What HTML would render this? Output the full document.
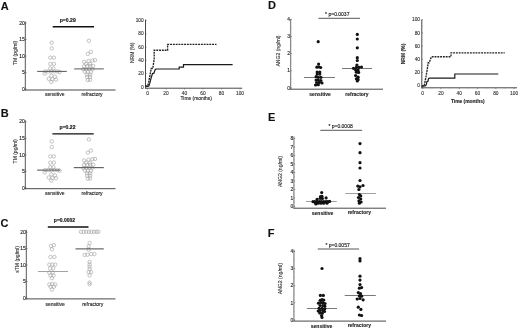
<!DOCTYPE html><html><head><meta charset="utf-8"><style>html,body{margin:0;padding:0;background:#fff;}svg{display:block;filter:grayscale(1);}text{font-family:"Liberation Sans", sans-serif;stroke:currentColor;stroke-width:0.12px;}</style></head><body>
<svg width="520" height="330" viewBox="0 0 520 330">
<rect width="520" height="330" fill="#fff"/>
<text x="0.64" y="9.88" font-size="11" text-anchor="start" font-weight="bold" fill="#111" color="#111">A</text>
<text x="0.82" y="116.96" font-size="11" text-anchor="start" font-weight="bold" fill="#111" color="#111">B</text>
<text x="0.54" y="227.00" font-size="11" text-anchor="start" font-weight="bold" fill="#111" color="#111">C</text>
<text x="268.10" y="9.14" font-size="11" text-anchor="start" font-weight="bold" fill="#111" color="#111">D</text>
<text x="268.06" y="120.98" font-size="11" text-anchor="start" font-weight="bold" fill="#111" color="#111">E</text>
<text x="267.82" y="237.20" font-size="11" text-anchor="start" font-weight="bold" fill="#111" color="#111">F</text>
<line x1="25.3" y1="21.6" x2="25.3" y2="90.4" stroke="#444" stroke-width="0.9"/>
<line x1="24.900000000000002" y1="90.0" x2="115.5" y2="90.0" stroke="#333" stroke-width="0.9"/>
<line x1="25.3" y1="89.1" x2="26.6" y2="89.1" stroke="#555" stroke-width="0.6"/>
<text x="24.70" y="90.85" font-size="5" text-anchor="end" font-weight="normal" fill="#222" color="#222">0</text>
<line x1="25.3" y1="72.57499999999999" x2="26.6" y2="72.57499999999999" stroke="#555" stroke-width="0.6"/>
<text x="24.70" y="74.32" font-size="5" text-anchor="end" font-weight="normal" fill="#222" color="#222">5</text>
<line x1="25.3" y1="56.04999999999999" x2="26.6" y2="56.04999999999999" stroke="#555" stroke-width="0.6"/>
<text x="24.70" y="57.80" font-size="5" text-anchor="end" font-weight="normal" fill="#222" color="#222">10</text>
<line x1="25.3" y1="39.52499999999999" x2="26.6" y2="39.52499999999999" stroke="#555" stroke-width="0.6"/>
<text x="24.70" y="41.27" font-size="5" text-anchor="end" font-weight="normal" fill="#222" color="#222">15</text>
<line x1="25.3" y1="22.999999999999986" x2="26.6" y2="22.999999999999986" stroke="#555" stroke-width="0.6"/>
<text x="24.70" y="24.75" font-size="5" text-anchor="end" font-weight="normal" fill="#222" color="#222">20</text>
<line x1="25.3" y1="80.83749999999999" x2="26.2" y2="80.83749999999999" stroke="#888" stroke-width="0.5"/>
<line x1="25.3" y1="64.3125" x2="26.2" y2="64.3125" stroke="#888" stroke-width="0.5"/>
<line x1="25.3" y1="47.787499999999994" x2="26.2" y2="47.787499999999994" stroke="#888" stroke-width="0.5"/>
<line x1="25.3" y1="31.26249999999999" x2="26.2" y2="31.26249999999999" stroke="#888" stroke-width="0.5"/>
<text x="17.44" y="52.90" font-size="5" text-anchor="middle" font-weight="normal" fill="#333" color="#333" transform="rotate(-90 17.44 52.90)">TM (pg/ml)</text>
<text x="54.72" y="96.04" font-size="5" text-anchor="middle" font-weight="normal" fill="#222" color="#222">sensitive</text>
<text x="92.04" y="95.84" font-size="5" text-anchor="middle" font-weight="normal" fill="#222" color="#222">refractory</text>
<text x="67.73" y="21.54" font-size="5.1" text-anchor="middle" font-weight="bold" fill="#111" color="#111">p=0.29</text>
<line x1="52.7" y1="26.8" x2="94" y2="26.8" stroke="#111" stroke-width="1.4"/>
<circle cx="51.7" cy="42.7" r="1.72" fill="none" stroke="#a0a0a0" stroke-width="0.62"/>
<circle cx="51.7" cy="48.4" r="1.72" fill="none" stroke="#a0a0a0" stroke-width="0.62"/>
<circle cx="50.3" cy="57.7" r="1.72" fill="none" stroke="#a0a0a0" stroke-width="0.62"/>
<circle cx="53.9" cy="57.7" r="1.72" fill="none" stroke="#a0a0a0" stroke-width="0.62"/>
<circle cx="50.3" cy="63.9" r="1.72" fill="none" stroke="#a0a0a0" stroke-width="0.62"/>
<circle cx="53.9" cy="63.9" r="1.72" fill="none" stroke="#a0a0a0" stroke-width="0.62"/>
<circle cx="50.3" cy="68.5" r="1.72" fill="none" stroke="#a0a0a0" stroke-width="0.62"/>
<circle cx="53.4" cy="68.5" r="1.72" fill="none" stroke="#a0a0a0" stroke-width="0.62"/>
<circle cx="45.2" cy="71.4" r="1.72" fill="none" stroke="#a0a0a0" stroke-width="0.62"/>
<circle cx="48.2" cy="71.4" r="1.72" fill="none" stroke="#a0a0a0" stroke-width="0.62"/>
<circle cx="51.3" cy="71.4" r="1.72" fill="none" stroke="#a0a0a0" stroke-width="0.62"/>
<circle cx="54.4" cy="71.4" r="1.72" fill="none" stroke="#a0a0a0" stroke-width="0.62"/>
<circle cx="57.5" cy="71.4" r="1.72" fill="none" stroke="#a0a0a0" stroke-width="0.62"/>
<circle cx="59.6" cy="72.0" r="1.72" fill="none" stroke="#a0a0a0" stroke-width="0.62"/>
<circle cx="44.6" cy="73.6" r="1.72" fill="none" stroke="#a0a0a0" stroke-width="0.62"/>
<circle cx="51.3" cy="75.7" r="1.72" fill="none" stroke="#a0a0a0" stroke-width="0.62"/>
<circle cx="55" cy="76.7" r="1.72" fill="none" stroke="#a0a0a0" stroke-width="0.62"/>
<circle cx="48.8" cy="78.8" r="1.72" fill="none" stroke="#a0a0a0" stroke-width="0.62"/>
<circle cx="52.4" cy="79.3" r="1.72" fill="none" stroke="#a0a0a0" stroke-width="0.62"/>
<circle cx="56" cy="79.6" r="1.72" fill="none" stroke="#a0a0a0" stroke-width="0.62"/>
<circle cx="51.3" cy="81.9" r="1.72" fill="none" stroke="#a0a0a0" stroke-width="0.62"/>
<circle cx="88.9" cy="40.8" r="1.72" fill="none" stroke="#a0a0a0" stroke-width="0.62"/>
<circle cx="87.8" cy="53.9" r="1.72" fill="none" stroke="#a0a0a0" stroke-width="0.62"/>
<circle cx="90.9" cy="51.9" r="1.72" fill="none" stroke="#a0a0a0" stroke-width="0.62"/>
<circle cx="84.1" cy="61.8" r="1.72" fill="none" stroke="#a0a0a0" stroke-width="0.62"/>
<circle cx="88.6" cy="61" r="1.72" fill="none" stroke="#a0a0a0" stroke-width="0.62"/>
<circle cx="92.4" cy="60.5" r="1.72" fill="none" stroke="#a0a0a0" stroke-width="0.62"/>
<circle cx="95" cy="60.2" r="1.72" fill="none" stroke="#a0a0a0" stroke-width="0.62"/>
<circle cx="86" cy="64" r="1.72" fill="none" stroke="#a0a0a0" stroke-width="0.62"/>
<circle cx="90" cy="64" r="1.72" fill="none" stroke="#a0a0a0" stroke-width="0.62"/>
<circle cx="84" cy="66.3" r="1.72" fill="none" stroke="#a0a0a0" stroke-width="0.62"/>
<circle cx="87" cy="66.2" r="1.72" fill="none" stroke="#a0a0a0" stroke-width="0.62"/>
<circle cx="90.2" cy="66" r="1.72" fill="none" stroke="#a0a0a0" stroke-width="0.62"/>
<circle cx="93.2" cy="66" r="1.72" fill="none" stroke="#a0a0a0" stroke-width="0.62"/>
<circle cx="83.3" cy="69.3" r="1.72" fill="none" stroke="#a0a0a0" stroke-width="0.62"/>
<circle cx="86.3" cy="69.2" r="1.72" fill="none" stroke="#a0a0a0" stroke-width="0.62"/>
<circle cx="89.4" cy="69" r="1.72" fill="none" stroke="#a0a0a0" stroke-width="0.62"/>
<circle cx="92.4" cy="69.2" r="1.72" fill="none" stroke="#a0a0a0" stroke-width="0.62"/>
<circle cx="84.8" cy="71.8" r="1.72" fill="none" stroke="#a0a0a0" stroke-width="0.62"/>
<circle cx="87.8" cy="72.1" r="1.72" fill="none" stroke="#a0a0a0" stroke-width="0.62"/>
<circle cx="90.9" cy="72.1" r="1.72" fill="none" stroke="#a0a0a0" stroke-width="0.62"/>
<circle cx="87.1" cy="74.6" r="1.72" fill="none" stroke="#a0a0a0" stroke-width="0.62"/>
<circle cx="90.1" cy="74.6" r="1.72" fill="none" stroke="#a0a0a0" stroke-width="0.62"/>
<circle cx="87.1" cy="77" r="1.72" fill="none" stroke="#a0a0a0" stroke-width="0.62"/>
<circle cx="90.1" cy="77" r="1.72" fill="none" stroke="#a0a0a0" stroke-width="0.62"/>
<circle cx="87.8" cy="80" r="1.72" fill="none" stroke="#a0a0a0" stroke-width="0.62"/>
<circle cx="90.1" cy="79.8" r="1.72" fill="none" stroke="#a0a0a0" stroke-width="0.62"/>
<line x1="37.2" y1="71.4" x2="66.8" y2="71.4" stroke="#444" stroke-width="0.9"/>
<line x1="74.2" y1="68.9" x2="103.8" y2="68.9" stroke="#444" stroke-width="0.9"/>
<line x1="25.3" y1="120.30000000000001" x2="25.3" y2="189.1" stroke="#444" stroke-width="0.9"/>
<line x1="24.900000000000002" y1="188.7" x2="115.5" y2="188.7" stroke="#333" stroke-width="0.9"/>
<line x1="25.3" y1="187.8" x2="26.6" y2="187.8" stroke="#555" stroke-width="0.6"/>
<text x="24.70" y="189.55" font-size="5" text-anchor="end" font-weight="normal" fill="#222" color="#222">0</text>
<line x1="25.3" y1="171.275" x2="26.6" y2="171.275" stroke="#555" stroke-width="0.6"/>
<text x="24.70" y="173.03" font-size="5" text-anchor="end" font-weight="normal" fill="#222" color="#222">5</text>
<line x1="25.3" y1="154.75" x2="26.6" y2="154.75" stroke="#555" stroke-width="0.6"/>
<text x="24.70" y="156.50" font-size="5" text-anchor="end" font-weight="normal" fill="#222" color="#222">10</text>
<line x1="25.3" y1="138.22500000000002" x2="26.6" y2="138.22500000000002" stroke="#555" stroke-width="0.6"/>
<text x="24.70" y="139.98" font-size="5" text-anchor="end" font-weight="normal" fill="#222" color="#222">15</text>
<line x1="25.3" y1="121.7" x2="26.6" y2="121.7" stroke="#555" stroke-width="0.6"/>
<text x="24.70" y="123.45" font-size="5" text-anchor="end" font-weight="normal" fill="#222" color="#222">20</text>
<line x1="25.3" y1="179.53750000000002" x2="26.2" y2="179.53750000000002" stroke="#888" stroke-width="0.5"/>
<line x1="25.3" y1="163.01250000000002" x2="26.2" y2="163.01250000000002" stroke="#888" stroke-width="0.5"/>
<line x1="25.3" y1="146.4875" x2="26.2" y2="146.4875" stroke="#888" stroke-width="0.5"/>
<line x1="25.3" y1="129.9625" x2="26.2" y2="129.9625" stroke="#888" stroke-width="0.5"/>
<text x="17.20" y="151.32" font-size="5" text-anchor="middle" font-weight="normal" fill="#333" color="#333" transform="rotate(-90 17.20 151.32)">TM (pg/ml)</text>
<text x="54.72" y="195.34" font-size="5" text-anchor="middle" font-weight="normal" fill="#222" color="#222">sensitive</text>
<text x="92.04" y="195.02" font-size="5" text-anchor="middle" font-weight="normal" fill="#222" color="#222">refractory</text>
<text x="67.55" y="128.78" font-size="5.1" text-anchor="middle" font-weight="bold" fill="#111" color="#111">p=0.22</text>
<line x1="52.4" y1="133.9" x2="93.7" y2="133.9" stroke="#111" stroke-width="1.3"/>
<circle cx="51.7" cy="141.4" r="1.72" fill="none" stroke="#a0a0a0" stroke-width="0.62"/>
<circle cx="51.7" cy="147.1" r="1.72" fill="none" stroke="#a0a0a0" stroke-width="0.62"/>
<circle cx="50.3" cy="156.4" r="1.72" fill="none" stroke="#a0a0a0" stroke-width="0.62"/>
<circle cx="53.9" cy="156.4" r="1.72" fill="none" stroke="#a0a0a0" stroke-width="0.62"/>
<circle cx="50.3" cy="162.6" r="1.72" fill="none" stroke="#a0a0a0" stroke-width="0.62"/>
<circle cx="53.9" cy="162.6" r="1.72" fill="none" stroke="#a0a0a0" stroke-width="0.62"/>
<circle cx="50.3" cy="167.2" r="1.72" fill="none" stroke="#a0a0a0" stroke-width="0.62"/>
<circle cx="53.4" cy="167.2" r="1.72" fill="none" stroke="#a0a0a0" stroke-width="0.62"/>
<circle cx="45.2" cy="170.10000000000002" r="1.72" fill="none" stroke="#a0a0a0" stroke-width="0.62"/>
<circle cx="48.2" cy="170.10000000000002" r="1.72" fill="none" stroke="#a0a0a0" stroke-width="0.62"/>
<circle cx="51.3" cy="170.10000000000002" r="1.72" fill="none" stroke="#a0a0a0" stroke-width="0.62"/>
<circle cx="54.4" cy="170.10000000000002" r="1.72" fill="none" stroke="#a0a0a0" stroke-width="0.62"/>
<circle cx="57.5" cy="170.10000000000002" r="1.72" fill="none" stroke="#a0a0a0" stroke-width="0.62"/>
<circle cx="59.6" cy="170.7" r="1.72" fill="none" stroke="#a0a0a0" stroke-width="0.62"/>
<circle cx="44.6" cy="172.3" r="1.72" fill="none" stroke="#a0a0a0" stroke-width="0.62"/>
<circle cx="51.3" cy="174.4" r="1.72" fill="none" stroke="#a0a0a0" stroke-width="0.62"/>
<circle cx="55" cy="175.4" r="1.72" fill="none" stroke="#a0a0a0" stroke-width="0.62"/>
<circle cx="48.8" cy="177.5" r="1.72" fill="none" stroke="#a0a0a0" stroke-width="0.62"/>
<circle cx="52.4" cy="178.0" r="1.72" fill="none" stroke="#a0a0a0" stroke-width="0.62"/>
<circle cx="56" cy="178.3" r="1.72" fill="none" stroke="#a0a0a0" stroke-width="0.62"/>
<circle cx="51.3" cy="180.60000000000002" r="1.72" fill="none" stroke="#a0a0a0" stroke-width="0.62"/>
<circle cx="88.9" cy="139.5" r="1.72" fill="none" stroke="#a0a0a0" stroke-width="0.62"/>
<circle cx="87.8" cy="152.6" r="1.72" fill="none" stroke="#a0a0a0" stroke-width="0.62"/>
<circle cx="90.9" cy="150.6" r="1.72" fill="none" stroke="#a0a0a0" stroke-width="0.62"/>
<circle cx="84.1" cy="160.5" r="1.72" fill="none" stroke="#a0a0a0" stroke-width="0.62"/>
<circle cx="88.6" cy="159.7" r="1.72" fill="none" stroke="#a0a0a0" stroke-width="0.62"/>
<circle cx="92.4" cy="159.2" r="1.72" fill="none" stroke="#a0a0a0" stroke-width="0.62"/>
<circle cx="95" cy="158.9" r="1.72" fill="none" stroke="#a0a0a0" stroke-width="0.62"/>
<circle cx="86" cy="162.7" r="1.72" fill="none" stroke="#a0a0a0" stroke-width="0.62"/>
<circle cx="90" cy="162.7" r="1.72" fill="none" stroke="#a0a0a0" stroke-width="0.62"/>
<circle cx="84" cy="165.0" r="1.72" fill="none" stroke="#a0a0a0" stroke-width="0.62"/>
<circle cx="87" cy="164.9" r="1.72" fill="none" stroke="#a0a0a0" stroke-width="0.62"/>
<circle cx="90.2" cy="164.7" r="1.72" fill="none" stroke="#a0a0a0" stroke-width="0.62"/>
<circle cx="93.2" cy="164.7" r="1.72" fill="none" stroke="#a0a0a0" stroke-width="0.62"/>
<circle cx="83.3" cy="168.0" r="1.72" fill="none" stroke="#a0a0a0" stroke-width="0.62"/>
<circle cx="86.3" cy="167.9" r="1.72" fill="none" stroke="#a0a0a0" stroke-width="0.62"/>
<circle cx="89.4" cy="167.7" r="1.72" fill="none" stroke="#a0a0a0" stroke-width="0.62"/>
<circle cx="92.4" cy="167.9" r="1.72" fill="none" stroke="#a0a0a0" stroke-width="0.62"/>
<circle cx="84.8" cy="170.5" r="1.72" fill="none" stroke="#a0a0a0" stroke-width="0.62"/>
<circle cx="87.8" cy="170.8" r="1.72" fill="none" stroke="#a0a0a0" stroke-width="0.62"/>
<circle cx="90.9" cy="170.8" r="1.72" fill="none" stroke="#a0a0a0" stroke-width="0.62"/>
<circle cx="87.1" cy="173.3" r="1.72" fill="none" stroke="#a0a0a0" stroke-width="0.62"/>
<circle cx="90.1" cy="173.3" r="1.72" fill="none" stroke="#a0a0a0" stroke-width="0.62"/>
<circle cx="87.1" cy="175.7" r="1.72" fill="none" stroke="#a0a0a0" stroke-width="0.62"/>
<circle cx="90.1" cy="175.7" r="1.72" fill="none" stroke="#a0a0a0" stroke-width="0.62"/>
<circle cx="87.8" cy="178.7" r="1.72" fill="none" stroke="#a0a0a0" stroke-width="0.62"/>
<circle cx="90.1" cy="178.5" r="1.72" fill="none" stroke="#a0a0a0" stroke-width="0.62"/>
<line x1="37.2" y1="170.1" x2="60.2" y2="170.1" stroke="#666" stroke-width="1.2"/>
<line x1="73.8" y1="167.6" x2="103.8" y2="167.6" stroke="#666" stroke-width="1.2"/>
<line x1="26.3" y1="229.8" x2="26.3" y2="299.29999999999995" stroke="#444" stroke-width="0.9"/>
<line x1="25.900000000000002" y1="298.9" x2="115.5" y2="298.9" stroke="#333" stroke-width="0.9"/>
<line x1="26.3" y1="298.0" x2="27.6" y2="298.0" stroke="#555" stroke-width="0.6"/>
<text x="25.70" y="299.75" font-size="5" text-anchor="end" font-weight="normal" fill="#222" color="#222">0</text>
<line x1="26.3" y1="281.55" x2="27.6" y2="281.55" stroke="#555" stroke-width="0.6"/>
<text x="25.70" y="283.30" font-size="5" text-anchor="end" font-weight="normal" fill="#222" color="#222">5</text>
<line x1="26.3" y1="265.1" x2="27.6" y2="265.1" stroke="#555" stroke-width="0.6"/>
<text x="25.70" y="266.85" font-size="5" text-anchor="end" font-weight="normal" fill="#222" color="#222">10</text>
<line x1="26.3" y1="248.65" x2="27.6" y2="248.65" stroke="#555" stroke-width="0.6"/>
<text x="25.70" y="250.40" font-size="5" text-anchor="end" font-weight="normal" fill="#222" color="#222">15</text>
<line x1="26.3" y1="232.2" x2="27.6" y2="232.2" stroke="#555" stroke-width="0.6"/>
<text x="25.70" y="233.95" font-size="5" text-anchor="end" font-weight="normal" fill="#222" color="#222">20</text>
<line x1="26.3" y1="289.775" x2="27.2" y2="289.775" stroke="#888" stroke-width="0.5"/>
<line x1="26.3" y1="273.325" x2="27.2" y2="273.325" stroke="#888" stroke-width="0.5"/>
<line x1="26.3" y1="256.875" x2="27.2" y2="256.875" stroke="#888" stroke-width="0.5"/>
<line x1="26.3" y1="240.425" x2="27.2" y2="240.425" stroke="#888" stroke-width="0.5"/>
<text x="19.34" y="259.36" font-size="5" text-anchor="middle" font-weight="normal" fill="#333" color="#333" transform="rotate(-90 19.34 259.36)">sTM (pg/ml)</text>
<text x="55.14" y="305.80" font-size="5" text-anchor="middle" font-weight="normal" fill="#222" color="#222">sensitive</text>
<text x="92.72" y="305.56" font-size="5" text-anchor="middle" font-weight="normal" fill="#222" color="#222">refractory</text>
<text x="64.50" y="222.08" font-size="5.0" text-anchor="middle" font-weight="bold" fill="#111" color="#111">p=0.0002</text>
<line x1="47.8" y1="227.0" x2="88.5" y2="227.0" stroke="#111" stroke-width="1.5"/>
<circle cx="51" cy="246" r="1.72" fill="none" stroke="#a0a0a0" stroke-width="0.62"/>
<circle cx="53.9" cy="245.1" r="1.72" fill="none" stroke="#a0a0a0" stroke-width="0.62"/>
<circle cx="51.9" cy="249.3" r="1.72" fill="none" stroke="#a0a0a0" stroke-width="0.62"/>
<circle cx="50.5" cy="257" r="1.72" fill="none" stroke="#a0a0a0" stroke-width="0.62"/>
<circle cx="54.4" cy="257" r="1.72" fill="none" stroke="#a0a0a0" stroke-width="0.62"/>
<circle cx="49.3" cy="264.6" r="1.72" fill="none" stroke="#a0a0a0" stroke-width="0.62"/>
<circle cx="52.2" cy="264.6" r="1.72" fill="none" stroke="#a0a0a0" stroke-width="0.62"/>
<circle cx="55.3" cy="264.6" r="1.72" fill="none" stroke="#a0a0a0" stroke-width="0.62"/>
<circle cx="50.2" cy="268.3" r="1.72" fill="none" stroke="#a0a0a0" stroke-width="0.62"/>
<circle cx="53.2" cy="268.3" r="1.72" fill="none" stroke="#a0a0a0" stroke-width="0.62"/>
<circle cx="49.3" cy="272.6" r="1.72" fill="none" stroke="#a0a0a0" stroke-width="0.62"/>
<circle cx="52.7" cy="272.6" r="1.72" fill="none" stroke="#a0a0a0" stroke-width="0.62"/>
<circle cx="50.5" cy="275.5" r="1.72" fill="none" stroke="#a0a0a0" stroke-width="0.62"/>
<circle cx="53.6" cy="275.5" r="1.72" fill="none" stroke="#a0a0a0" stroke-width="0.62"/>
<circle cx="51.9" cy="278.2" r="1.72" fill="none" stroke="#a0a0a0" stroke-width="0.62"/>
<circle cx="49.3" cy="284.5" r="1.72" fill="none" stroke="#a0a0a0" stroke-width="0.62"/>
<circle cx="52.2" cy="284" r="1.72" fill="none" stroke="#a0a0a0" stroke-width="0.62"/>
<circle cx="55.3" cy="284.5" r="1.72" fill="none" stroke="#a0a0a0" stroke-width="0.62"/>
<circle cx="50.5" cy="286.7" r="1.72" fill="none" stroke="#a0a0a0" stroke-width="0.62"/>
<circle cx="53.9" cy="286.7" r="1.72" fill="none" stroke="#a0a0a0" stroke-width="0.62"/>
<circle cx="51.9" cy="289.6" r="1.72" fill="none" stroke="#a0a0a0" stroke-width="0.62"/>
<circle cx="81" cy="231.8" r="1.72" fill="none" stroke="#a0a0a0" stroke-width="0.62"/>
<circle cx="83.6" cy="231.8" r="1.72" fill="none" stroke="#a0a0a0" stroke-width="0.62"/>
<circle cx="86.2" cy="231.8" r="1.72" fill="none" stroke="#a0a0a0" stroke-width="0.62"/>
<circle cx="88.8" cy="231.8" r="1.72" fill="none" stroke="#a0a0a0" stroke-width="0.62"/>
<circle cx="91.4" cy="231.8" r="1.72" fill="none" stroke="#a0a0a0" stroke-width="0.62"/>
<circle cx="94" cy="231.8" r="1.72" fill="none" stroke="#a0a0a0" stroke-width="0.62"/>
<circle cx="96.6" cy="231.8" r="1.72" fill="none" stroke="#a0a0a0" stroke-width="0.62"/>
<circle cx="98.3" cy="231.8" r="1.72" fill="none" stroke="#a0a0a0" stroke-width="0.62"/>
<circle cx="89.6" cy="243" r="1.72" fill="none" stroke="#a0a0a0" stroke-width="0.62"/>
<circle cx="88.6" cy="246.4" r="1.72" fill="none" stroke="#a0a0a0" stroke-width="0.62"/>
<circle cx="88.6" cy="249.6" r="1.72" fill="none" stroke="#a0a0a0" stroke-width="0.62"/>
<circle cx="84.7" cy="255" r="1.72" fill="none" stroke="#a0a0a0" stroke-width="0.62"/>
<circle cx="87.6" cy="254.7" r="1.72" fill="none" stroke="#a0a0a0" stroke-width="0.62"/>
<circle cx="91.1" cy="254.1" r="1.72" fill="none" stroke="#a0a0a0" stroke-width="0.62"/>
<circle cx="94.4" cy="254.1" r="1.72" fill="none" stroke="#a0a0a0" stroke-width="0.62"/>
<circle cx="89.6" cy="261.9" r="1.72" fill="none" stroke="#a0a0a0" stroke-width="0.62"/>
<circle cx="89.6" cy="264.4" r="1.72" fill="none" stroke="#a0a0a0" stroke-width="0.62"/>
<circle cx="89.6" cy="266.7" r="1.72" fill="none" stroke="#a0a0a0" stroke-width="0.62"/>
<circle cx="89.6" cy="269" r="1.72" fill="none" stroke="#a0a0a0" stroke-width="0.62"/>
<circle cx="88.6" cy="272.1" r="1.72" fill="none" stroke="#a0a0a0" stroke-width="0.62"/>
<circle cx="91.1" cy="272.1" r="1.72" fill="none" stroke="#a0a0a0" stroke-width="0.62"/>
<circle cx="89.6" cy="275.4" r="1.72" fill="none" stroke="#a0a0a0" stroke-width="0.62"/>
<circle cx="89.6" cy="282.6" r="1.72" fill="none" stroke="#a0a0a0" stroke-width="0.62"/>
<circle cx="89.6" cy="284.2" r="1.72" fill="none" stroke="#a0a0a0" stroke-width="0.62"/>
<line x1="38" y1="271.5" x2="68" y2="271.5" stroke="#999" stroke-width="0.9"/>
<line x1="75.5" y1="248.9" x2="103.8" y2="248.9" stroke="#333" stroke-width="0.9"/>
<line x1="290.6" y1="19.0" x2="290.6" y2="89.60000000000001" stroke="#8a8a8a" stroke-width="1.3"/>
<line x1="290.20000000000005" y1="89.2" x2="383" y2="89.2" stroke="#333" stroke-width="0.9"/>
<line x1="290.6" y1="87.8" x2="291.90000000000003" y2="87.8" stroke="#555" stroke-width="0.6"/>
<text x="290.00" y="89.55" font-size="4.9" text-anchor="end" font-weight="normal" fill="#222" color="#222">0</text>
<line x1="290.6" y1="70.69999999999999" x2="291.90000000000003" y2="70.69999999999999" stroke="#555" stroke-width="0.6"/>
<text x="290.00" y="72.45" font-size="4.9" text-anchor="end" font-weight="normal" fill="#222" color="#222">1</text>
<line x1="290.6" y1="53.599999999999994" x2="291.90000000000003" y2="53.599999999999994" stroke="#555" stroke-width="0.6"/>
<text x="290.00" y="55.35" font-size="4.9" text-anchor="end" font-weight="normal" fill="#222" color="#222">2</text>
<line x1="290.6" y1="36.49999999999999" x2="291.90000000000003" y2="36.49999999999999" stroke="#555" stroke-width="0.6"/>
<text x="290.00" y="38.25" font-size="4.9" text-anchor="end" font-weight="normal" fill="#222" color="#222">3</text>
<line x1="290.6" y1="19.39999999999999" x2="291.90000000000003" y2="19.39999999999999" stroke="#555" stroke-width="0.6"/>
<text x="290.00" y="21.15" font-size="4.9" text-anchor="end" font-weight="normal" fill="#222" color="#222">4</text>
<line x1="290.6" y1="79.25" x2="291.5" y2="79.25" stroke="#888" stroke-width="0.5"/>
<line x1="290.6" y1="62.14999999999999" x2="291.5" y2="62.14999999999999" stroke="#888" stroke-width="0.5"/>
<line x1="290.6" y1="45.05" x2="291.5" y2="45.05" stroke="#888" stroke-width="0.5"/>
<line x1="290.6" y1="27.94999999999999" x2="291.5" y2="27.94999999999999" stroke="#888" stroke-width="0.5"/>
<text x="280.04" y="51.00" font-size="5.1" text-anchor="middle" font-weight="normal" fill="#333" color="#333" transform="rotate(-90 280.04 51.00)">ANG2 (ng/ml)</text>
<text x="320.05" y="96.28" font-size="5" text-anchor="middle" font-weight="bold" fill="#222" color="#222">sensitive</text>
<text x="356.92" y="96.16" font-size="5" text-anchor="middle" font-weight="bold" fill="#222" color="#222">refractory</text>
<text x="337.28" y="15.64" font-size="5.0" text-anchor="middle" font-weight="normal" fill="#111" color="#111">* p=0.0037</text>
<line x1="318.4" y1="18.3" x2="360" y2="18.3" stroke="#444" stroke-width="0.9"/>
<line x1="304" y1="77.5" x2="335" y2="77.5" stroke="#555" stroke-width="0.8"/>
<line x1="342" y1="68.5" x2="372" y2="68.5" stroke="#555" stroke-width="0.8"/>
<circle cx="318.2" cy="41.7" r="1.6" fill="#111"/>
<circle cx="318.6" cy="64" r="1.6" fill="#111"/>
<circle cx="316.9" cy="67.2" r="1.6" fill="#111"/>
<circle cx="318.8" cy="66.9" r="1.6" fill="#111"/>
<circle cx="320.7" cy="67.5" r="1.6" fill="#111"/>
<circle cx="317.2" cy="72" r="1.6" fill="#111"/>
<circle cx="319.8" cy="72" r="1.6" fill="#111"/>
<circle cx="317.2" cy="74.1" r="1.6" fill="#111"/>
<circle cx="319.8" cy="74.1" r="1.6" fill="#111"/>
<circle cx="316.1" cy="76.7" r="1.6" fill="#111"/>
<circle cx="318.3" cy="77.3" r="1.6" fill="#111"/>
<circle cx="320.9" cy="77.3" r="1.6" fill="#111"/>
<circle cx="316.1" cy="80" r="1.6" fill="#111"/>
<circle cx="318.3" cy="80" r="1.6" fill="#111"/>
<circle cx="320.9" cy="80.5" r="1.6" fill="#111"/>
<circle cx="316.6" cy="82.5" r="1.6" fill="#111"/>
<circle cx="319.3" cy="82.3" r="1.6" fill="#111"/>
<circle cx="322" cy="83" r="1.6" fill="#111"/>
<circle cx="315.6" cy="85" r="1.6" fill="#111"/>
<circle cx="318.3" cy="84.7" r="1.6" fill="#111"/>
<circle cx="357.3" cy="34.4" r="1.6" fill="#111"/>
<circle cx="357.3" cy="39" r="1.6" fill="#111"/>
<circle cx="357.3" cy="47.8" r="1.6" fill="#111"/>
<circle cx="357.3" cy="57.7" r="1.6" fill="#111"/>
<circle cx="357.3" cy="60.5" r="1.6" fill="#111"/>
<circle cx="356.9" cy="65" r="1.6" fill="#111"/>
<circle cx="353.5" cy="68.3" r="1.6" fill="#111"/>
<circle cx="356.4" cy="67.3" r="1.6" fill="#111"/>
<circle cx="359" cy="67.3" r="1.6" fill="#111"/>
<circle cx="361.5" cy="67" r="1.6" fill="#111"/>
<circle cx="355.6" cy="70" r="1.6" fill="#111"/>
<circle cx="358.1" cy="70" r="1.6" fill="#111"/>
<circle cx="356.4" cy="72.2" r="1.6" fill="#111"/>
<circle cx="358.6" cy="72.4" r="1.6" fill="#111"/>
<circle cx="355.6" cy="75.5" r="1.6" fill="#111"/>
<circle cx="358.1" cy="77.2" r="1.6" fill="#111"/>
<circle cx="356.4" cy="78.8" r="1.6" fill="#111"/>
<circle cx="358.1" cy="79.7" r="1.6" fill="#111"/>
<circle cx="357.3" cy="80.9" r="1.6" fill="#111"/>
<line x1="293.9" y1="136.4" x2="293.9" y2="208.6" stroke="#8a8a8a" stroke-width="1.3"/>
<line x1="293.5" y1="208.2" x2="386" y2="208.2" stroke="#333" stroke-width="0.9"/>
<line x1="293.9" y1="206.4" x2="295.2" y2="206.4" stroke="#555" stroke-width="0.6"/>
<text x="293.30" y="208.15" font-size="4.9" text-anchor="end" font-weight="normal" fill="#222" color="#222">0</text>
<line x1="293.9" y1="197.925" x2="295.2" y2="197.925" stroke="#555" stroke-width="0.6"/>
<text x="293.30" y="199.68" font-size="4.9" text-anchor="end" font-weight="normal" fill="#222" color="#222">1</text>
<line x1="293.9" y1="189.45000000000002" x2="295.2" y2="189.45000000000002" stroke="#555" stroke-width="0.6"/>
<text x="293.30" y="191.20" font-size="4.9" text-anchor="end" font-weight="normal" fill="#222" color="#222">2</text>
<line x1="293.9" y1="180.97500000000002" x2="295.2" y2="180.97500000000002" stroke="#555" stroke-width="0.6"/>
<text x="293.30" y="182.73" font-size="4.9" text-anchor="end" font-weight="normal" fill="#222" color="#222">3</text>
<line x1="293.9" y1="172.5" x2="295.2" y2="172.5" stroke="#555" stroke-width="0.6"/>
<text x="293.30" y="174.25" font-size="4.9" text-anchor="end" font-weight="normal" fill="#222" color="#222">4</text>
<line x1="293.9" y1="164.025" x2="295.2" y2="164.025" stroke="#555" stroke-width="0.6"/>
<text x="293.30" y="165.78" font-size="4.9" text-anchor="end" font-weight="normal" fill="#222" color="#222">5</text>
<line x1="293.9" y1="155.55" x2="295.2" y2="155.55" stroke="#555" stroke-width="0.6"/>
<text x="293.30" y="157.30" font-size="4.9" text-anchor="end" font-weight="normal" fill="#222" color="#222">6</text>
<line x1="293.9" y1="147.07500000000002" x2="295.2" y2="147.07500000000002" stroke="#555" stroke-width="0.6"/>
<text x="293.30" y="148.83" font-size="4.9" text-anchor="end" font-weight="normal" fill="#222" color="#222">7</text>
<line x1="293.9" y1="138.60000000000002" x2="295.2" y2="138.60000000000002" stroke="#555" stroke-width="0.6"/>
<text x="293.30" y="140.35" font-size="4.9" text-anchor="end" font-weight="normal" fill="#222" color="#222">8</text>
<text x="281.92" y="171.54" font-size="5.1" text-anchor="middle" font-weight="normal" fill="#333" color="#333" transform="rotate(-90 281.92 171.54)">ANG2 (ng/ml)</text>
<text x="322.50" y="214.58" font-size="5" text-anchor="middle" font-weight="bold" fill="#222" color="#222">sensitive</text>
<text x="359.32" y="214.26" font-size="5" text-anchor="middle" font-weight="bold" fill="#222" color="#222">refractory</text>
<text x="340.55" y="128.30" font-size="5.0" text-anchor="middle" font-weight="normal" fill="#111" color="#111">* p=0.0008</text>
<line x1="320.3" y1="130.3" x2="362.1" y2="130.3" stroke="#444" stroke-width="0.9"/>
<line x1="306.1" y1="201.5" x2="336.8" y2="201.5" stroke="#888" stroke-width="0.8"/>
<line x1="345.3" y1="193.5" x2="376" y2="193.5" stroke="#888" stroke-width="0.8"/>
<circle cx="321.7" cy="192.6" r="1.6" fill="#111"/>
<circle cx="320.5" cy="196.7" r="1.6" fill="#111"/>
<circle cx="322" cy="196.4" r="1.6" fill="#111"/>
<circle cx="320.2" cy="198.3" r="1.6" fill="#111"/>
<circle cx="322.4" cy="198.6" r="1.6" fill="#111"/>
<circle cx="326.1" cy="197.9" r="1.6" fill="#111"/>
<circle cx="317.1" cy="199.4" r="1.6" fill="#111"/>
<circle cx="313" cy="201.7" r="1.6" fill="#111"/>
<circle cx="314.8" cy="201.7" r="1.6" fill="#111"/>
<circle cx="317.1" cy="201.7" r="1.6" fill="#111"/>
<circle cx="319.4" cy="201.7" r="1.6" fill="#111"/>
<circle cx="321.3" cy="201.7" r="1.6" fill="#111"/>
<circle cx="323.6" cy="201.7" r="1.6" fill="#111"/>
<circle cx="325.8" cy="201.7" r="1.6" fill="#111"/>
<circle cx="327.7" cy="201.7" r="1.6" fill="#111"/>
<circle cx="329.6" cy="201.4" r="1.6" fill="#111"/>
<circle cx="315.6" cy="203.2" r="1.6" fill="#111"/>
<circle cx="318.3" cy="203.2" r="1.6" fill="#111"/>
<circle cx="320.9" cy="203.2" r="1.6" fill="#111"/>
<circle cx="323.6" cy="203.2" r="1.6" fill="#111"/>
<circle cx="327" cy="203.2" r="1.6" fill="#111"/>
<circle cx="316" cy="204" r="1.6" fill="#111"/>
<circle cx="360" cy="143.6" r="1.6" fill="#111"/>
<circle cx="360" cy="152.7" r="1.6" fill="#111"/>
<circle cx="360" cy="162.7" r="1.6" fill="#111"/>
<circle cx="360" cy="168" r="1.6" fill="#111"/>
<circle cx="360" cy="180.5" r="1.6" fill="#111"/>
<circle cx="357.8" cy="186.1" r="1.6" fill="#111"/>
<circle cx="360" cy="186.8" r="1.6" fill="#111"/>
<circle cx="363" cy="185.5" r="1.6" fill="#111"/>
<circle cx="358.9" cy="189.5" r="1.6" fill="#111"/>
<circle cx="359.4" cy="194.5" r="1.6" fill="#111"/>
<circle cx="360.7" cy="195.9" r="1.6" fill="#111"/>
<circle cx="358.5" cy="197.5" r="1.6" fill="#111"/>
<circle cx="360.7" cy="199" r="1.6" fill="#111"/>
<circle cx="358.9" cy="200.9" r="1.6" fill="#111"/>
<circle cx="361.1" cy="202" r="1.6" fill="#111"/>
<circle cx="359.4" cy="203.2" r="1.6" fill="#111"/>
<line x1="293.9" y1="202.1625" x2="294.8" y2="202.1625" stroke="#888" stroke-width="0.5"/>
<line x1="293.9" y1="193.6875" x2="294.8" y2="193.6875" stroke="#888" stroke-width="0.5"/>
<line x1="293.9" y1="185.2125" x2="294.8" y2="185.2125" stroke="#888" stroke-width="0.5"/>
<line x1="293.9" y1="176.7375" x2="294.8" y2="176.7375" stroke="#888" stroke-width="0.5"/>
<line x1="293.9" y1="168.26250000000002" x2="294.8" y2="168.26250000000002" stroke="#888" stroke-width="0.5"/>
<line x1="293.9" y1="159.78750000000002" x2="294.8" y2="159.78750000000002" stroke="#888" stroke-width="0.5"/>
<line x1="293.9" y1="151.3125" x2="294.8" y2="151.3125" stroke="#888" stroke-width="0.5"/>
<line x1="293.9" y1="142.8375" x2="294.8" y2="142.8375" stroke="#888" stroke-width="0.5"/>
<line x1="293.9" y1="249.5" x2="293.9" y2="321.5" stroke="#8a8a8a" stroke-width="1.3"/>
<line x1="293.5" y1="321.1" x2="386" y2="321.1" stroke="#333" stroke-width="0.9"/>
<line x1="293.9" y1="319.9" x2="295.2" y2="319.9" stroke="#555" stroke-width="0.6"/>
<text x="293.30" y="321.65" font-size="4.9" text-anchor="end" font-weight="normal" fill="#222" color="#222">0</text>
<line x1="293.9" y1="302.79999999999995" x2="295.2" y2="302.79999999999995" stroke="#555" stroke-width="0.6"/>
<text x="293.30" y="304.55" font-size="4.9" text-anchor="end" font-weight="normal" fill="#222" color="#222">1</text>
<line x1="293.9" y1="285.7" x2="295.2" y2="285.7" stroke="#555" stroke-width="0.6"/>
<text x="293.30" y="287.45" font-size="4.9" text-anchor="end" font-weight="normal" fill="#222" color="#222">2</text>
<line x1="293.9" y1="268.59999999999997" x2="295.2" y2="268.59999999999997" stroke="#555" stroke-width="0.6"/>
<text x="293.30" y="270.35" font-size="4.9" text-anchor="end" font-weight="normal" fill="#222" color="#222">3</text>
<line x1="293.9" y1="251.49999999999997" x2="295.2" y2="251.49999999999997" stroke="#555" stroke-width="0.6"/>
<text x="293.30" y="253.25" font-size="4.9" text-anchor="end" font-weight="normal" fill="#222" color="#222">4</text>
<line x1="293.9" y1="311.34999999999997" x2="294.79999999999995" y2="311.34999999999997" stroke="#888" stroke-width="0.5"/>
<line x1="293.9" y1="294.25" x2="294.79999999999995" y2="294.25" stroke="#888" stroke-width="0.5"/>
<line x1="293.9" y1="277.15" x2="294.79999999999995" y2="277.15" stroke="#888" stroke-width="0.5"/>
<line x1="293.9" y1="260.04999999999995" x2="294.79999999999995" y2="260.04999999999995" stroke="#888" stroke-width="0.5"/>
<text x="281.92" y="278.64" font-size="5.1" text-anchor="middle" font-weight="normal" fill="#333" color="#333" transform="rotate(-90 281.92 278.64)">ANG2 (ng/ml)</text>
<text x="321.50" y="327.54" font-size="5" text-anchor="middle" font-weight="bold" fill="#222" color="#222">sensitive</text>
<text x="359.32" y="327.46" font-size="5" text-anchor="middle" font-weight="bold" fill="#222" color="#222">refractory</text>
<text x="337.55" y="247.36" font-size="5.0" text-anchor="middle" font-weight="normal" fill="#111" color="#111">* p=0.0057</text>
<line x1="317.8" y1="249.0" x2="359.1" y2="249.0" stroke="#444" stroke-width="0.9"/>
<line x1="306.9" y1="308.5" x2="337" y2="308.5" stroke="#555" stroke-width="0.8"/>
<line x1="344.7" y1="295.5" x2="375.8" y2="295.5" stroke="#555" stroke-width="0.8"/>
<circle cx="322" cy="268.5" r="1.6" fill="#111"/>
<circle cx="320.4" cy="295.4" r="1.6" fill="#111"/>
<circle cx="323.3" cy="295.4" r="1.6" fill="#111"/>
<circle cx="322" cy="299.5" r="1.6" fill="#111"/>
<circle cx="321" cy="302.5" r="1.6" fill="#111"/>
<circle cx="322.9" cy="302.7" r="1.6" fill="#111"/>
<circle cx="320.1" cy="305.5" r="1.6" fill="#111"/>
<circle cx="322.9" cy="305.5" r="1.6" fill="#111"/>
<circle cx="324.8" cy="306.2" r="1.6" fill="#111"/>
<circle cx="319.1" cy="308.3" r="1.6" fill="#111"/>
<circle cx="322" cy="308.3" r="1.6" fill="#111"/>
<circle cx="324.8" cy="308.8" r="1.6" fill="#111"/>
<circle cx="320.1" cy="310.5" r="1.6" fill="#111"/>
<circle cx="322.9" cy="310.5" r="1.6" fill="#111"/>
<circle cx="319.7" cy="313" r="1.6" fill="#111"/>
<circle cx="322.3" cy="313.2" r="1.6" fill="#111"/>
<circle cx="321.5" cy="315.5" r="1.6" fill="#111"/>
<circle cx="322" cy="317.4" r="1.6" fill="#111"/>
<circle cx="318.5" cy="303.2" r="1.6" fill="#111"/>
<circle cx="325" cy="303.5" r="1.6" fill="#111"/>
<circle cx="318.2" cy="311" r="1.6" fill="#111"/>
<circle cx="324.5" cy="311.5" r="1.6" fill="#111"/>
<circle cx="320.2" cy="300.3" r="1.6" fill="#111"/>
<circle cx="323.8" cy="300" r="1.6" fill="#111"/>
<circle cx="360" cy="258.7" r="1.6" fill="#111"/>
<circle cx="360" cy="260.9" r="1.6" fill="#111"/>
<circle cx="360" cy="276.2" r="1.6" fill="#111"/>
<circle cx="360" cy="280.1" r="1.6" fill="#111"/>
<circle cx="360" cy="284.5" r="1.6" fill="#111"/>
<circle cx="359.4" cy="288.2" r="1.6" fill="#111"/>
<circle cx="361.6" cy="287.6" r="1.6" fill="#111"/>
<circle cx="358.3" cy="292.6" r="1.6" fill="#111"/>
<circle cx="360.5" cy="293.7" r="1.6" fill="#111"/>
<circle cx="359.4" cy="295.9" r="1.6" fill="#111"/>
<circle cx="361.6" cy="296.2" r="1.6" fill="#111"/>
<circle cx="357.2" cy="299" r="1.6" fill="#111"/>
<circle cx="360" cy="298.5" r="1.6" fill="#111"/>
<circle cx="363.1" cy="299.8" r="1.6" fill="#111"/>
<circle cx="358.3" cy="307.2" r="1.6" fill="#111"/>
<circle cx="360.9" cy="309.4" r="1.6" fill="#111"/>
<circle cx="359.4" cy="315" r="1.6" fill="#111"/>
<circle cx="361.6" cy="315.5" r="1.6" fill="#111"/>
<line x1="145.5" y1="19.6" x2="145.5" y2="88.60000000000001" stroke="#333" stroke-width="0.9"/>
<line x1="145.1" y1="88.2" x2="242.2" y2="88.2" stroke="#333" stroke-width="0.9"/>
<line x1="145.5" y1="86.9" x2="146.7" y2="86.9" stroke="#555" stroke-width="0.6"/>
<text x="143.70" y="88.50" font-size="4.8" text-anchor="end" font-weight="normal" fill="#333" color="#333">0</text>
<line x1="147.5" y1="88.2" x2="147.5" y2="89.5" stroke="#555" stroke-width="0.6"/>
<text x="147.50" y="95.00" font-size="4.8" text-anchor="middle" font-weight="normal" fill="#333" color="#333">0</text>
<line x1="145.5" y1="73.63000000000001" x2="146.7" y2="73.63000000000001" stroke="#555" stroke-width="0.6"/>
<text x="143.70" y="75.23" font-size="4.8" text-anchor="end" font-weight="normal" fill="#333" color="#333">20</text>
<line x1="166.0" y1="88.2" x2="166.0" y2="89.5" stroke="#555" stroke-width="0.6"/>
<text x="166.00" y="95.00" font-size="4.8" text-anchor="middle" font-weight="normal" fill="#333" color="#333">20</text>
<line x1="145.5" y1="60.36000000000001" x2="146.7" y2="60.36000000000001" stroke="#555" stroke-width="0.6"/>
<text x="143.70" y="61.96" font-size="4.8" text-anchor="end" font-weight="normal" fill="#333" color="#333">40</text>
<line x1="184.5" y1="88.2" x2="184.5" y2="89.5" stroke="#555" stroke-width="0.6"/>
<text x="184.50" y="95.00" font-size="4.8" text-anchor="middle" font-weight="normal" fill="#333" color="#333">40</text>
<line x1="145.5" y1="47.09" x2="146.7" y2="47.09" stroke="#555" stroke-width="0.6"/>
<text x="143.70" y="48.69" font-size="4.8" text-anchor="end" font-weight="normal" fill="#333" color="#333">60</text>
<line x1="203.0" y1="88.2" x2="203.0" y2="89.5" stroke="#555" stroke-width="0.6"/>
<text x="203.00" y="95.00" font-size="4.8" text-anchor="middle" font-weight="normal" fill="#333" color="#333">60</text>
<line x1="145.5" y1="33.82000000000001" x2="146.7" y2="33.82000000000001" stroke="#555" stroke-width="0.6"/>
<text x="143.70" y="35.42" font-size="4.8" text-anchor="end" font-weight="normal" fill="#333" color="#333">80</text>
<line x1="221.5" y1="88.2" x2="221.5" y2="89.5" stroke="#555" stroke-width="0.6"/>
<text x="221.50" y="95.00" font-size="4.8" text-anchor="middle" font-weight="normal" fill="#333" color="#333">80</text>
<line x1="145.5" y1="20.55000000000001" x2="146.7" y2="20.55000000000001" stroke="#555" stroke-width="0.6"/>
<text x="143.70" y="22.15" font-size="4.8" text-anchor="end" font-weight="normal" fill="#333" color="#333">100</text>
<line x1="240.0" y1="88.2" x2="240.0" y2="89.5" stroke="#555" stroke-width="0.6"/>
<text x="240.00" y="95.00" font-size="4.8" text-anchor="middle" font-weight="normal" fill="#333" color="#333">100</text>
<line x1="156.75" y1="88.2" x2="156.75" y2="89.10000000000001" stroke="#888" stroke-width="0.5"/>
<line x1="145.5" y1="80.265" x2="146.4" y2="80.265" stroke="#888" stroke-width="0.5"/>
<line x1="175.25" y1="88.2" x2="175.25" y2="89.10000000000001" stroke="#888" stroke-width="0.5"/>
<line x1="145.5" y1="66.995" x2="146.4" y2="66.995" stroke="#888" stroke-width="0.5"/>
<line x1="193.75" y1="88.2" x2="193.75" y2="89.10000000000001" stroke="#888" stroke-width="0.5"/>
<line x1="145.5" y1="53.72500000000001" x2="146.4" y2="53.72500000000001" stroke="#888" stroke-width="0.5"/>
<line x1="212.25" y1="88.2" x2="212.25" y2="89.10000000000001" stroke="#888" stroke-width="0.5"/>
<line x1="145.5" y1="40.455000000000005" x2="146.4" y2="40.455000000000005" stroke="#888" stroke-width="0.5"/>
<line x1="230.75" y1="88.2" x2="230.75" y2="89.10000000000001" stroke="#888" stroke-width="0.5"/>
<line x1="145.5" y1="27.18500000000001" x2="146.4" y2="27.18500000000001" stroke="#888" stroke-width="0.5"/>
<text x="134.16" y="52.78" font-size="5" text-anchor="middle" font-weight="normal" fill="#333" color="#333" transform="rotate(-90 134.16 52.78)">NRM (%)</text>
<text x="196.23" y="100.32" font-size="4.9" text-anchor="middle" font-weight="normal" fill="#222" color="#222">Time (months)</text>
<polyline points="145.7,86.2 147.5,86.2 148.5,83.2 151.2,68.5 152.8,68.5 154.2,58.6 154.2,50.2 167.6,50.2 167.6,44.4 216.5,44.4" fill="none" stroke="#222" stroke-width="1.35" stroke-dasharray="1.9,0.9" stroke-linejoin="miter"/>
<polyline points="145.7,86.2 148.8,86.2 149.8,83.2 151.2,77.7 152.5,73.6 153.9,73.2 155.3,69.3 156.6,69.0 179.2,69.0 179.2,67.1 183.5,67.1 183.5,64.7 232.6,64.7" fill="none" stroke="#1a1a1a" stroke-width="1.2" stroke-linejoin="miter"/>
<line x1="421.8" y1="19.5" x2="421.8" y2="88.2" stroke="#333" stroke-width="0.9"/>
<line x1="421.40000000000003" y1="87.8" x2="517" y2="87.8" stroke="#333" stroke-width="0.9"/>
<line x1="421.8" y1="85.8" x2="423.0" y2="85.8" stroke="#555" stroke-width="0.6"/>
<text x="420.00" y="87.40" font-size="4.8" text-anchor="end" font-weight="normal" fill="#333" color="#333">0</text>
<line x1="422.7" y1="87.8" x2="422.7" y2="89.1" stroke="#555" stroke-width="0.6"/>
<text x="422.70" y="94.90" font-size="4.8" text-anchor="middle" font-weight="normal" fill="#333" color="#333">0</text>
<line x1="421.8" y1="72.58" x2="423.0" y2="72.58" stroke="#555" stroke-width="0.6"/>
<text x="420.00" y="74.18" font-size="4.8" text-anchor="end" font-weight="normal" fill="#333" color="#333">20</text>
<line x1="440.98" y1="87.8" x2="440.98" y2="89.1" stroke="#555" stroke-width="0.6"/>
<text x="440.98" y="94.90" font-size="4.8" text-anchor="middle" font-weight="normal" fill="#333" color="#333">20</text>
<line x1="421.8" y1="59.36" x2="423.0" y2="59.36" stroke="#555" stroke-width="0.6"/>
<text x="420.00" y="60.96" font-size="4.8" text-anchor="end" font-weight="normal" fill="#333" color="#333">40</text>
<line x1="459.26" y1="87.8" x2="459.26" y2="89.1" stroke="#555" stroke-width="0.6"/>
<text x="459.26" y="94.90" font-size="4.8" text-anchor="middle" font-weight="normal" fill="#333" color="#333">40</text>
<line x1="421.8" y1="46.13999999999999" x2="423.0" y2="46.13999999999999" stroke="#555" stroke-width="0.6"/>
<text x="420.00" y="47.74" font-size="4.8" text-anchor="end" font-weight="normal" fill="#333" color="#333">60</text>
<line x1="477.53999999999996" y1="87.8" x2="477.53999999999996" y2="89.1" stroke="#555" stroke-width="0.6"/>
<text x="477.54" y="94.90" font-size="4.8" text-anchor="middle" font-weight="normal" fill="#333" color="#333">60</text>
<line x1="421.8" y1="32.919999999999995" x2="423.0" y2="32.919999999999995" stroke="#555" stroke-width="0.6"/>
<text x="420.00" y="34.52" font-size="4.8" text-anchor="end" font-weight="normal" fill="#333" color="#333">80</text>
<line x1="495.82" y1="87.8" x2="495.82" y2="89.1" stroke="#555" stroke-width="0.6"/>
<text x="495.82" y="94.90" font-size="4.8" text-anchor="middle" font-weight="normal" fill="#333" color="#333">80</text>
<line x1="421.8" y1="19.69999999999999" x2="423.0" y2="19.69999999999999" stroke="#555" stroke-width="0.6"/>
<text x="420.00" y="21.30" font-size="4.8" text-anchor="end" font-weight="normal" fill="#333" color="#333">100</text>
<line x1="514.1" y1="87.8" x2="514.1" y2="89.1" stroke="#555" stroke-width="0.6"/>
<text x="514.10" y="94.90" font-size="4.8" text-anchor="middle" font-weight="normal" fill="#333" color="#333">100</text>
<line x1="431.84" y1="87.8" x2="431.84" y2="88.7" stroke="#888" stroke-width="0.5"/>
<line x1="421.8" y1="79.19" x2="422.7" y2="79.19" stroke="#888" stroke-width="0.5"/>
<line x1="450.12" y1="87.8" x2="450.12" y2="88.7" stroke="#888" stroke-width="0.5"/>
<line x1="421.8" y1="65.97" x2="422.7" y2="65.97" stroke="#888" stroke-width="0.5"/>
<line x1="468.4" y1="87.8" x2="468.4" y2="88.7" stroke="#888" stroke-width="0.5"/>
<line x1="421.8" y1="52.74999999999999" x2="422.7" y2="52.74999999999999" stroke="#888" stroke-width="0.5"/>
<line x1="486.68" y1="87.8" x2="486.68" y2="88.7" stroke="#888" stroke-width="0.5"/>
<line x1="421.8" y1="39.529999999999994" x2="422.7" y2="39.529999999999994" stroke="#888" stroke-width="0.5"/>
<line x1="504.96" y1="87.8" x2="504.96" y2="88.7" stroke="#888" stroke-width="0.5"/>
<line x1="421.8" y1="26.309999999999995" x2="422.7" y2="26.309999999999995" stroke="#888" stroke-width="0.5"/>
<text x="404.70" y="53.96" font-size="5" text-anchor="middle" font-weight="bold" fill="#333" color="#333" transform="rotate(-90 404.70 53.96)">NRM (%)</text>
<text x="467.73" y="103.44" font-size="4.9" text-anchor="middle" font-weight="bold" fill="#222" color="#222">Time (months)</text>
<polyline points="421.8,86.0 424.2,86.0 424.7,83.3 425.1,81.2 426,76.7 427.3,69.1 428.2,62.7 429.2,62.7 431.1,57.6 431.7,56.7 451,56.7 451,52.9 504.7,52.9" fill="none" stroke="#222" stroke-width="1.35" stroke-dasharray="1.9,0.9" stroke-linejoin="miter"/>
<polyline points="421.8,86.0 425.4,86.0 426.4,84.4 426.9,81.6 427.9,81.2 428.5,78.6 429.2,78.2 454.8,78.2 454.8,74.0 498.3,74.0" fill="none" stroke="#1a1a1a" stroke-width="1.2" stroke-linejoin="miter"/>
</svg></body></html>
